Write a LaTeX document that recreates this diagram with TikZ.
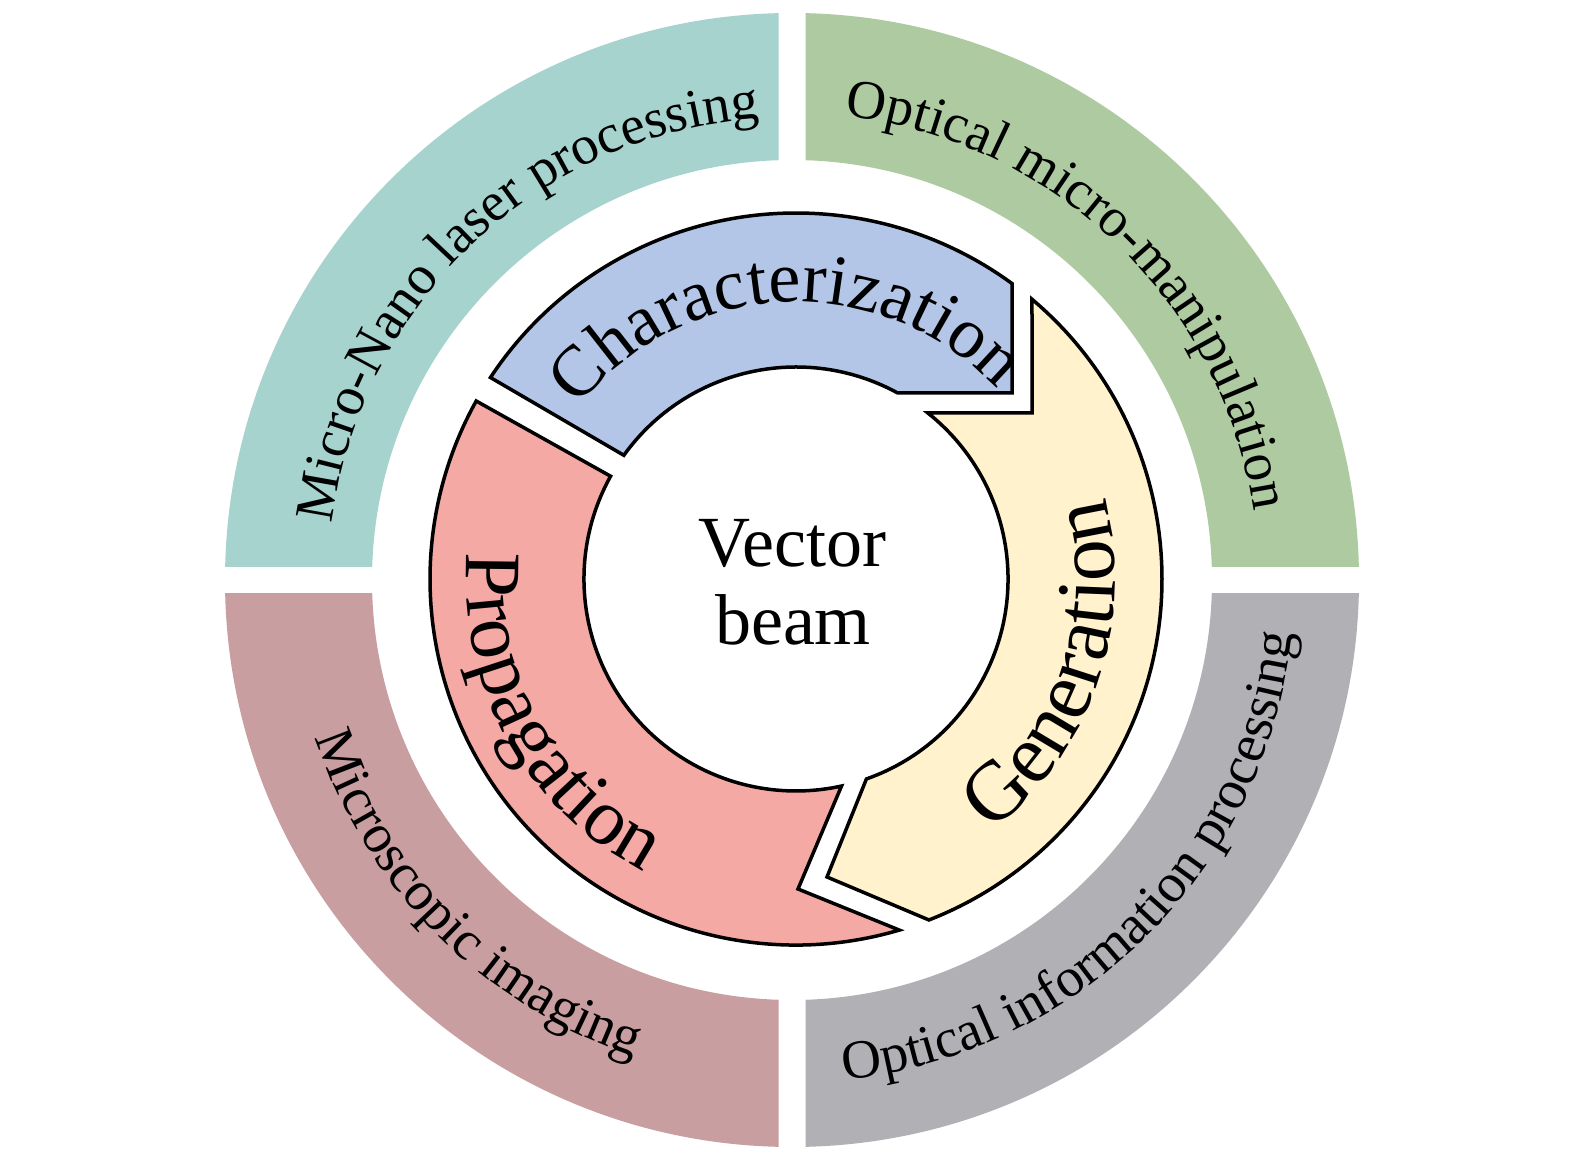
\documentclass[tikz,border=0pt]{standalone}
\usepackage{fontspec}
\setmainfont{Liberation Serif}
\usetikzlibrary{calc,decorations.text}
\definecolor{cTeal}{HTML}{A6D3CE}
\definecolor{cGreen}{HTML}{ADCAA1}
\definecolor{cMauve}{HTML}{C89EA0}
\definecolor{cGray}{HTML}{B1B1B5}
\definecolor{cBlue}{HTML}{B4C6E8}
\definecolor{cYellow}{HTML}{FFF2CD}
\definecolor{cPink}{HTML}{F5A9A4}
\newcommand\outerfont{\fontsize{55}{60}\selectfont}
\newcommand\charfont{\fontsize{72}{78}\selectfont}
\newcommand\genfont{\fontsize{84}{90}\selectfont}
\newcommand\propfont{\fontsize{80}{86}\selectfont}
\newcommand\centerfont{\fontsize{72}{78}\selectfont}
\tikzset{
  ringtext/.style={decorate,decoration={text along path,text align=center,text={#1}}},
  arrowband/.style={draw=black,line width=3.5,line join=miter,miter limit=4},
  quadfill/.style={even odd rule}
}
\begin{document}
\begin{tikzpicture}[x=1pt,y=1pt]
\useasboundingbox (0,0) rectangle (1583,1168);
\fill[white] (0,0) rectangle (1583,1168);
\coordinate (O1) at (792,588);
\coordinate (O2) at (796,589);
% outer ring quadrants
\begin{scope}
\clip (0,601.5) rectangle (778.5,1168);
\fill[cTeal,quadfill] (O1) circle (567) (O1) circle (420);
\end{scope}
\begin{scope}
\clip (805.5,601.5) rectangle (1583,1168);
\fill[cGreen,quadfill] (O1) circle (567) (O1) circle (420);
\end{scope}
\begin{scope}
\clip (0,0) rectangle (778.5,574.5);
\fill[cMauve,quadfill] (O1) circle (567) (O1) circle (420);
\end{scope}
\begin{scope}
\clip (805.5,0) rectangle (1583,574.5);
\fill[cGray,quadfill] (O1) circle (567) (O1) circle (420);
\end{scope}
% outer labels
\path[ringtext={|\outerfont|Micro-Nano laser processing}] ($(O1)+(193.5:463)$) arc[start angle=193.5,end angle=73.5,radius=463];
\path[ringtext={|\outerfont|Optical micro-manipulation}] ($(O1)+(106:467)$) arc[start angle=106,end angle=-14,radius=467];
\path[ringtext={|\outerfont|Microscopic imaging}] ($(O1)+(171:502)$) arc[start angle=171,end angle=279,radius=502];
\path[ringtext={|\outerfont|Optical information processing}] ($(O1)+(255:503)$) arc[start angle=255,end angle=375,radius=503];
% inner arrows
\draw[arrowband,fill=cBlue] ($(O2)+(146.6:366)$) arc[start angle=146.6,end angle=53.83,radius=366] -- (1012,775) -- ($(O2)+(61.33:212)$) arc[start angle=61.33,end angle=144.3,radius=212] -- cycle;
\draw[arrowband,fill=cYellow] ($(O2)+(49.85:366)$) arc[start angle=49.85,end angle=-68.7,radius=366] -- (827,291) -- ($(O2)+(-70.6:212)$) arc[start angle=-70.6,end angle=51.54,radius=212] -- (1032,755) -- cycle;
\draw[arrowband,fill=cPink] ($(O2)+(-73.6:366)$) arc[start angle=-73.6,end angle=-209.1,radius=366] -- ($(O2)+(-209:212)$) arc[start angle=-209,end angle=-77.6,radius=212] -- (798,279) -- cycle;
% inner labels
\path[ringtext={|\charfont|Characterization}] ($(O2)+(172.5:277)$) arc[start angle=172.5,end angle=12.5,radius=277];
\path[ringtext={|\genfont|Generation}] ($(O2)+(-88.7:319)$) arc[start angle=-88.7,end angle=51.3,radius=319];
\path[ringtext={|\propfont|Propagation}] ($(O2)+(139:330)$) arc[start angle=139,end angle=279,radius=330];
% centre
\node[anchor=base,font=\centerfont,inner sep=0] (vec) at (792,601) {Vector};
\node[anchor=base,font=\centerfont,inner sep=0] (beam) at (793,523) {beam};
\end{tikzpicture}
\end{document}
